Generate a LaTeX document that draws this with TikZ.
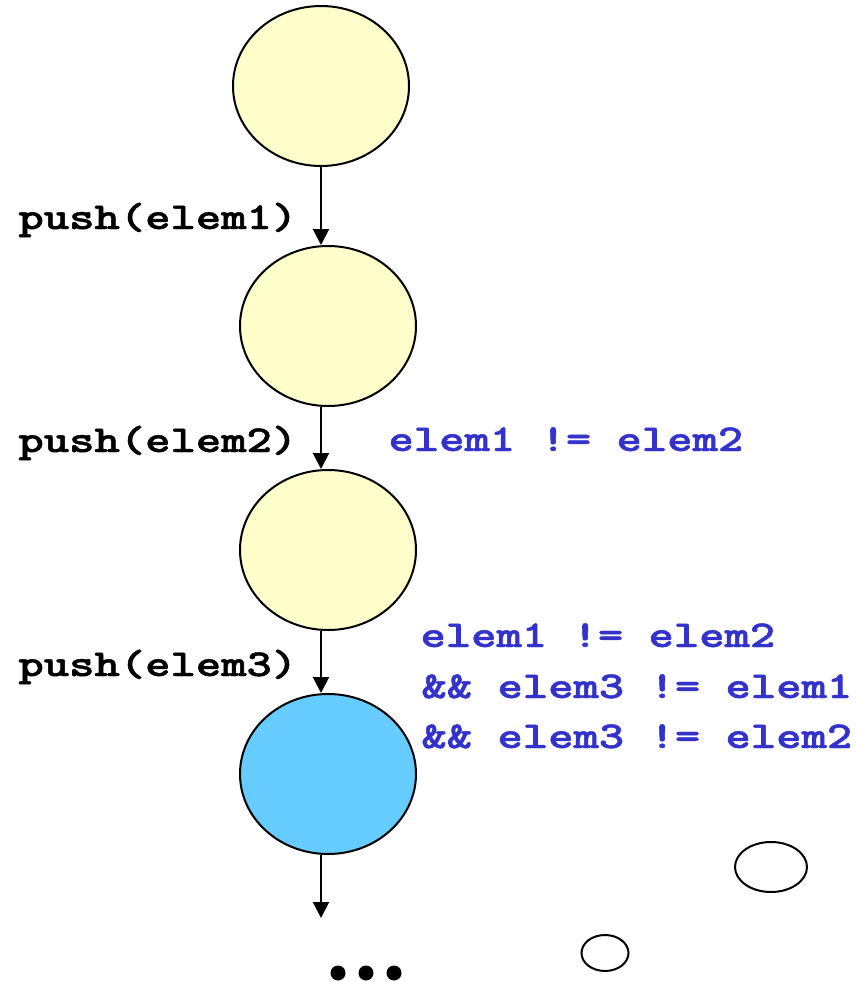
\documentclass[tikz,border=0pt]{standalone}
\usepackage{fontspec}
\newfontfamily\codefont{lmmonolt10-bold}[Extension=.otf,FakeBold=1.2]
\usetikzlibrary{shapes.geometric, arrows.meta, positioning}

\definecolor{statefill}{RGB}{255,255,204}
\definecolor{current}{RGB}{102,204,255}
\definecolor{condblue}{RGB}{51,51,204}

\begin{document}
\begin{tikzpicture}[x=0.5pt,y=-0.5pt,>={Triangle[width=8pt,length=8pt]}]
\tikzstyle{state}=[ellipse,draw=black,line width=1pt,inner sep=0pt,minimum width=88pt,minimum height=80pt,fill=statefill]
\tikzstyle{blob}=[ellipse,draw=black,line width=1pt,inner sep=0pt]
\tikzstyle{op}=[inner sep=0pt,anchor=base west,xscale=1.27,font=\codefont\fontsize{19}{21}\selectfont]
\tikzstyle{cond}=[op,text=condblue]
\tikzstyle{trans}=[->,line width=1pt]
\tikzstyle{dot}=[circle,fill=black,inner sep=0pt,minimum size=7.5pt]

\useasboundingbox (0,0) rectangle (856,982);

% states of the stack
\node[state] (s0) at (321,86) {};
\node[state] (s1) at (328,326) {};
\node[state] (s2) at (328,550) {};
\node[state,fill=current] (s3) at (328,774) {};
\coordinate (next) at (321,918);

\draw[trans] (s0.south) -- (s0.south |- s1.north);
\draw[trans] (s0.south |- s1.south) -- (s0.south |- s2.north);
\draw[trans] (s0.south |- s2.south) -- (s0.south |- s3.north);
\draw[trans] (s0.south |- s3.south) -- (next);

% operations
\node[op] (push1) at (18,229) {push(elem1)};
\node[op] (push2) at (18,452) {push(elem2)};
\node[op] (push3) at (18,676) {push(elem3)};

% conditions
\node[cond] (cond1) at (388,451) {elem1 != elem2};
\node[cond] (cond2) at (420,647) {elem1 != elem2};
\node[cond] (cond3) at (421,698) {\&\& elem3 != elem1};
\node[cond] (cond4) at (421,748) {\&\& elem3 != elem2};

% more states
\foreach \x [count=\i] in {338,366,394}
  \node[dot] (dot\i) at (\x,973) {};
\node[blob,minimum width=36pt,minimum height=25pt] (b1) at (771,867) {};
\node[blob,minimum width=23.5pt,minimum height=18pt] (b2) at (605,953) {};
\end{tikzpicture}
\end{document}
